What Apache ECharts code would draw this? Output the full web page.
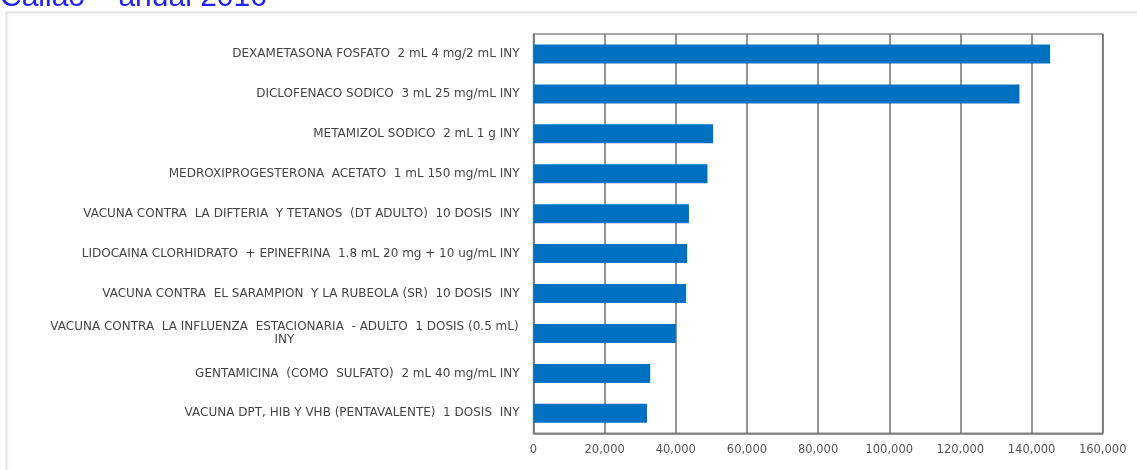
<!DOCTYPE html>
<html>
<head>
<meta charset="utf-8">
<script src="https://cdn.jsdelivr.net/npm/echarts@6/dist/echarts.min.js"></script>
<style>
html,body{margin:0;padding:0;background:#fff;}
#chart{width:1137px;height:470px;}
</style>
</head>
<body>
<div id="chart"></div>
<script>
const titleText = 'Callao – anual 2016';
const categories = [
  'DEXAMETASONA FOSFATO  2 mL 4 mg/2 mL INY',
  'DICLOFENACO SODICO  3 mL 25 mg/mL INY',
  'METAMIZOL SODICO  2 mL 1 g INY',
  'MEDROXIPROGESTERONA  ACETATO  1 mL 150 mg/mL INY',
  'VACUNA CONTRA  LA DIFTERIA  Y TETANOS  (DT ADULTO)  10 DOSIS  INY',
  'LIDOCAINA CLORHIDRATO  + EPINEFRINA  1.8 mL 20 mg + 10 ug/mL INY',
  'VACUNA CONTRA  EL SARAMPION  Y LA RUBEOLA (SR)  10 DOSIS  INY',
  'VACUNA CONTRA  LA INFLUENZA  ESTACIONARIA  - ADULTO  1 DOSIS (0.5 mL)\nINY',
  'GENTAMICINA  (COMO  SULFATO)  2 mL 40 mg/mL INY',
  'VACUNA DPT, HIB Y VHB (PENTAVALENTE)  1 DOSIS  INY'
];
const values = [145200, 136600, 50500, 48900, 43700, 43200, 42900, 40000, 32800, 31900];
const xTickLabels = ['0', '20,000', '40,000', '60,000', '80,000', '100,000', '120,000', '140,000', '160,000'];
const xStep = 20000;

const labelFont = {fontFamily: 'DejaVu Sans', fontSize: 12, color: '#454545'};
// measure the widest line of the wrapped label so that its lines can be centred on each other
const ctx = document.createElement('canvas').getContext('2d');
ctx.font = labelFont.fontSize + 'px "' + labelFont.fontFamily + '"';
let wrapWidth = 0;
categories.forEach(c => { if (c.indexOf('\n') >= 0) c.split('\n').forEach(s => { wrapWidth = Math.max(wrapWidth, ctx.measureText(s).width); }); });
wrapWidth = Math.ceil(wrapWidth) + 1;

const chart = echarts.init(document.getElementById('chart'), null, {renderer: 'canvas'});
chart.setOption({
  animation: false,
  backgroundColor: '#ffffff',
  graphic: [
    {type: 'rect', shape: {x: 6.5, y: 12.5, width: 1300, height: 600},
     style: {fill: '#ffffff', stroke: '#e2e2e2', lineWidth: 1.5, shadowBlur: 3, shadowColor: 'rgba(0,0,0,0.08)'}, z: -10},
    {type: 'text', x: 0, y: 13,
     style: {text: titleText, font: '30px "Liberation Sans", Arial, sans-serif', fill: '#2323ee', verticalAlign: 'bottom', align: 'left'}, z: 10}
  ],
  grid: {left: 533.5, right: 34.3, top: 34, bottom: 36.7, show: true, borderColor: '#8a8a8a', borderWidth: 1.5, containLabel: false},
  xAxis: {
    type: 'value', min: 0, max: 160000, interval: xStep,
    axisLine: {show: true, lineStyle: {color: '#7a7a7a', width: 1.5}},
    axisTick: {show: false},
    splitLine: {show: true, lineStyle: {color: '#727272', width: 1.5}},
    axisLabel: {
      margin: 11, fontFamily: 'DejaVu Sans', fontSize: 11.5, color: '#555555',
      formatter: v => xTickLabels[Math.round(v / xStep)]
    }
  },
  yAxis: {
    type: 'category', data: categories, inverse: true,
    axisLine: {show: true, lineStyle: {color: '#7a7a7a', width: 1.5}},
    axisTick: {show: false},
    splitLine: {show: false},
    axisLabel: Object.assign({
      margin: 14, align: 'right', lineHeight: 13, interval: 0,
      formatter: function (v) {
        if (v.indexOf('\n') >= 0) {
          return v.split('\n').map(s => '{c|' + s + '}').join('\n');
        }
        return v;
      },
      rich: {c: Object.assign({width: wrapWidth, align: 'center', lineHeight: 13}, labelFont)}
    }, labelFont)
  },
  series: [{
    type: 'bar', data: values, barWidth: 19,
    itemStyle: {color: '#0070C0'}
  }]
});
</script>
</body>
</html>
